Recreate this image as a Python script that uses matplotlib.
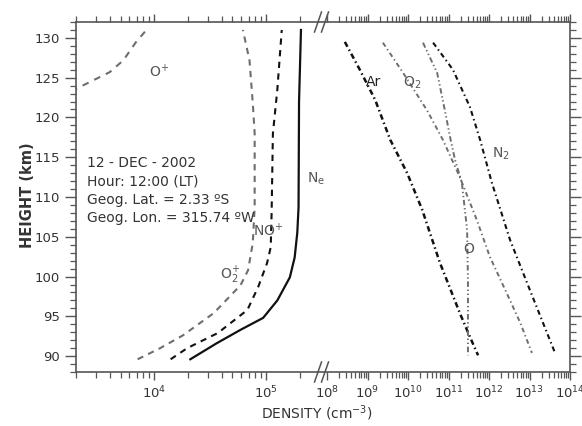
import numpy as np
import matplotlib.pyplot as plt
from matplotlib.ticker import LogLocator, NullFormatter, MultipleLocator
from matplotlib.lines import Line2D

# ion densities (cm^-3), left part of the broken axis
ne_h = [89.6, 91.6, 93.3, 94.8, 97.0, 99.9, 102.4, 105.5, 108.7, 122.0, 131.0]
ne_d = [2.1e4, 3.6e4, 5.9e4, 9.4e4, 1.26e5, 1.63e5, 1.80e5, 1.90e5, 1.95e5, 1.97e5, 2.05e5]

nop_h = [89.6, 91.0, 92.9, 95.8, 98.7, 101.7, 103.7, 108.0, 118.0, 123.5, 131.0]
nop_d = [1.4e4, 1.97e4, 3.7e4, 6.8e4, 8.5e4, 1.02e5, 1.10e5, 1.12e5, 1.15e5, 1.26e5, 1.38e5]

o2p_h = [89.6, 91.0, 92.6, 95.4, 98.9, 100.8, 104.2, 108.7, 118.0, 121.8, 127.2, 131.0]
o2p_d = [7.1e3, 1.13e4, 1.8e4, 3.4e4, 5.9e4, 6.9e4, 7.6e4, 7.9e4, 7.9e4, 7.6e4, 7.1e4, 6.2e4]

op_h = [123.3, 123.6, 125.7, 127.2, 129.4, 131.0]
op_d = [1.8e3, 2.0e3, 4.0e3, 5.3e3, 6.8e3, 8.5e3]

# neutral densities (cm^-3), right part
ar_h = [129.5, 126.0, 122.2, 117.2, 113.0, 108.4, 101.7, 95.4, 92.4, 90.1]
ar_d = [10**8.44, 10**8.81, 10**9.19, 10**9.56, 10**9.98, 10**10.35, 10**10.79, 10**11.28, 10**11.53, 10**11.73]

o2_h = [129.4, 125.6, 120.9, 117.2, 112.5, 107.1, 102.5, 97.0, 94.2, 90.4]
o2_d = [10**9.38, 10**9.88, 10**10.47, 10**10.86, 10**11.28, 10**11.70, 10**12.02, 10**12.52, 10**12.77, 10**13.06]

o_h = [129.4, 125.6, 120.9, 117.5, 114.7, 111.8, 105.8, 99.6, 90.1]
o_d = [10**10.37, 10**10.72, 10**10.91, 10**11.04, 10**11.16, 10**11.33, 10**11.46, 10**11.48, 10**11.48]

n2_h = [129.4, 126.0, 121.3, 117.2, 111.8, 104.6, 98.3, 90.4]
n2_d = [10**10.62, 10**11.11, 10**11.53, 10**11.78, 10**12.07, 10**12.52, 10**13.01, 10**13.63]

dark = '#111111'
gray = '#6e6e6e'
axc = '#555555'

fig = plt.figure(figsize=(5.82, 4.26), dpi=100)
W, H = 582, 426
bot, top = 1 - 372 / H, 1 - 22 / H
xl, xm1, xm2, xr = 76, 318, 326, 570
ax1 = fig.add_axes([xl / W, bot, (xm1 - xl) / W, top - bot])
ax2 = fig.add_axes([xm2 / W, bot, (xr - xm2) / W, top - bot])

for ax in (ax1, ax2):
    ax.set_xscale('log')
    ax.set_ylim(88, 132)
    ax.yaxis.set_major_locator(MultipleLocator(5))
    ax.yaxis.set_minor_locator(MultipleLocator(1))
    ax.xaxis.set_major_locator(LogLocator(base=10, numticks=20))
    ax.xaxis.set_minor_locator(LogLocator(base=10, subs=np.arange(2, 10), numticks=20))
    ax.xaxis.set_minor_formatter(NullFormatter())
    for s in ax.spines.values():
        s.set_color(axc)
        s.set_linewidth(1.2)
    ax.tick_params(which='both', direction='out', color=axc, labelcolor='#333333',
                   labelsize=9.5, top=True)
    ax.tick_params(axis='x', which='major', length=6, width=1)
    ax.tick_params(axis='x', which='minor', length=4, width=0.9)
    ax.tick_params(axis='y', which='major', length=8, width=1)
    ax.tick_params(axis='y', which='minor', length=4.3, width=0.9)

ax1.set_xlim(10**3.30, 10**5.464)
ax2.set_xlim(10**7.975, 1e14)
ax1.spines['right'].set_visible(False)
ax2.spines['left'].set_visible(False)
ax1.tick_params(axis='y', which='both', left=True, right=False)
ax2.tick_params(axis='y', which='both', left=False, right=True, labelleft=False)

# ions
ax1.plot(ne_d, ne_h, color=dark, lw=1.6)
ax1.plot(nop_d, nop_h, color=dark, lw=1.5, dashes=(3, 2.6))
ax1.plot(o2p_d, o2p_h, color=gray, lw=1.5, dashes=(3, 2.6))
ax1.plot(op_d, op_h, color=gray, lw=1.5, dashes=(3.2, 3))

# neutrals
ax2.plot(ar_d, ar_h, color=dark, lw=1.8, dashes=(2.2, 1.3, 0.6, 1.3))
ax2.plot(o2_d, o2_h, color=gray, lw=1.4, dashes=(2.4, 1.6, 0.7, 1.6))
ax2.plot(o_d, o_h, color=gray, lw=1.4, dashes=(2.8, 1.4, 0.7, 1.4, 0.7, 1.4))
ax2.plot(n2_d, n2_h, color=dark, lw=1.5, dashes=(2.4, 1.6, 0.7, 1.6))

# labels
tk = dict(fontsize=10, color='#555555', ha='center', va='center')
ax1.text(1.1e4, 125.7, r'O$^{+}$', **tk)
ax1.text(4.8e4, 100.1, r'O$_{2}^{+}$', **tk)
ax1.text(1.05e5, 105.8, r'NO$^{+}$', **tk)
ax1.text(2.8e5, 112.3, r'N$_\mathregular{e}$', **tk)
ax2.text(10**9.15, 124.4, 'Ar', fontsize=10, color='#222222', ha='center', va='center')
ax2.text(10**10.1, 124.3, r'O$_2$', **tk)
ax2.text(10**11.5, 103.5, 'O', **tk)
ax2.text(10**12.3, 115.4, r'N$_2$', **tk)

info = ['12 - DEC - 2002', 'Hour: 12:00 (LT)',
        'Geog. Lat. = 2.33 ºS', 'Geog. Lon. = 315.74 ºW']
for i, s in enumerate(info):
    fig.text(87 / W, 1 - (163 + i * 18.3) / H, s, fontsize=10, color='#333333',
             ha='left', va='center')

fig.text(27 / W, 1 - 195 / H, 'HEIGHT (km)', rotation=90, fontsize=10.5,
         fontweight='bold', color='#333333', ha='center', va='center')
fig.text(317 / W, 1 - 413 / H, r'DENSITY (cm$^{-3}$)', fontsize=10,
         color='#333333', ha='center', va='center')

# axis break marks
for yb in (372, 22):
    for xb in (xm1, xm2 - 1):
        fig.add_artist(Line2D([(xb - 3.5) / W, (xb + 3.5) / W],
                              [1 - (yb + 10) / H, 1 - (yb - 10) / H],
                              color=axc, lw=1.1))
    fig.add_artist(Line2D([xm1 / W, (xm2 - 1) / W], [1 - yb / H, 1 - yb / H],
                          color=axc, lw=1.2))

fig.savefig('out.png', dpi=100)
